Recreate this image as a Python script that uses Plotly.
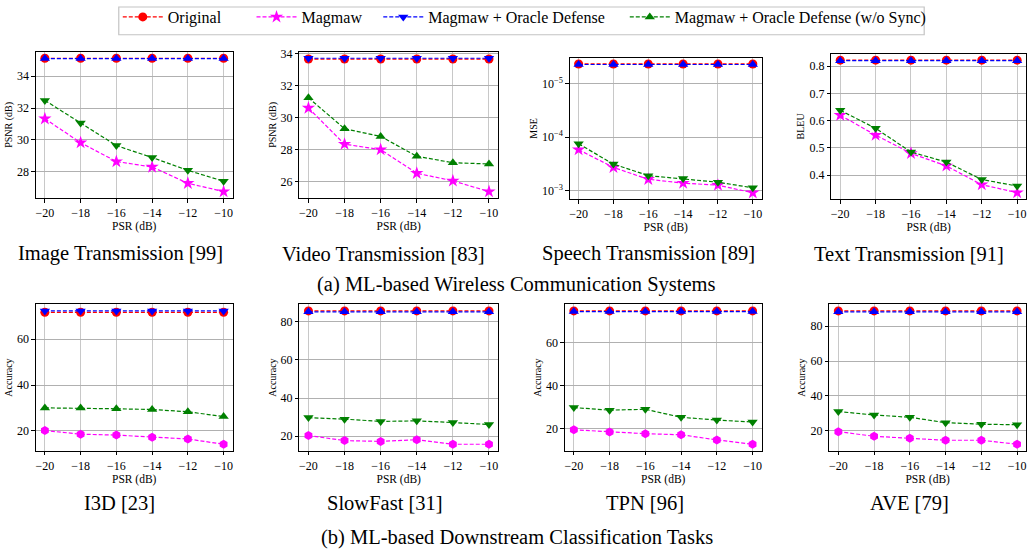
import numpy as np
import plotly.graph_objects as go

FONT = "Liberation Serif"
W, H = 1027, 550

psr = [-20, -18, -16, -14, -12, -10]
psr_ticks = [-20, -18, -16, -14, -12, -10]

series_names = ["Original", "Magmaw", "Magmaw + Oracle Defense", "Magmaw + Oracle Defense (w/o Sync)"]
series_colors = ["#ff0000", "#ff00ff", "#0000ff", "#008000"]
legend_symbols = ["circle", "star", "triangle-down", "triangle-up"]

# ---- (a) ML-based wireless communication systems ----
image_original = [35.12, 35.12, 35.12, 35.12, 35.12, 35.12]
image_magmaw = [31.33, 29.83, 28.65, 28.31, 27.29, 26.77]
image_oracle = [35.10, 35.10, 35.10, 35.10, 35.10, 35.10]
image_wosync = [32.48, 31.06, 29.65, 28.90, 28.10, 27.42]

video_original = [33.67, 33.67, 33.67, 33.67, 33.67, 33.67]
video_magmaw = [30.60, 28.33, 27.99, 26.51, 26.03, 25.36]
video_oracle = [33.72, 33.72, 33.72, 33.72, 33.72, 33.72]
video_wosync = [31.24, 29.30, 28.82, 27.57, 27.17, 27.09]

speech_original = [4.3e-6, 4.3e-6, 4.3e-6, 4.3e-6, 4.3e-6, 4.3e-6]
speech_magmaw = [1.71e-4, 3.67e-4, 6.10e-4, 7.20e-4, 7.87e-4, 1.09e-3]
speech_oracle = [4.4e-6, 4.4e-6, 4.4e-6, 4.4e-6, 4.4e-6, 4.4e-6]
speech_wosync = [1.33e-4, 3.18e-4, 5.22e-4, 5.93e-4, 6.92e-4, 8.80e-4]

text_original = [0.822, 0.822, 0.822, 0.822, 0.822, 0.822]
text_magmaw = [0.620, 0.547, 0.480, 0.434, 0.365, 0.336]
text_oracle = [0.820, 0.820, 0.820, 0.820, 0.820, 0.820]
text_wosync = [0.638, 0.572, 0.485, 0.448, 0.384, 0.360]

# ---- (b) ML-based downstream classification tasks ----
i3d_original = [71.8, 71.8, 71.8, 71.8, 71.8, 71.8]
i3d_magmaw = [20.1, 18.5, 18.1, 17.2, 16.4, 14.1]
i3d_oracle = [72.4, 72.4, 72.4, 72.4, 72.4, 72.4]
i3d_wosync = [30.0, 29.9, 29.6, 29.3, 28.3, 26.2]

slowfast_original = [85.8, 85.8, 85.8, 85.8, 85.8, 85.8]
slowfast_magmaw = [20.3, 17.6, 17.2, 18.1, 15.7, 15.7]
slowfast_oracle = [85.3, 85.3, 85.3, 85.3, 85.3, 85.3]
slowfast_wosync = [29.7, 28.9, 27.7, 28.0, 27.1, 26.1]

tpn_original = [74.6, 74.6, 74.6, 74.6, 74.6, 74.6]
tpn_magmaw = [19.5, 18.5, 17.7, 17.2, 14.8, 12.8]
tpn_oracle = [74.3, 74.3, 74.3, 74.3, 74.3, 74.3]
tpn_wosync = [29.8, 28.6, 29.0, 25.3, 24.0, 23.1]

ave_original = [88.8, 88.8, 88.8, 88.8, 88.8, 88.8]
ave_magmaw = [19.4, 16.8, 15.6, 14.5, 14.5, 12.2]
ave_oracle = [88.3, 88.3, 88.3, 88.3, 88.3, 88.3]
ave_wosync = [31.0, 29.0, 27.7, 24.6, 23.7, 23.4]

captions = ["Image Transmission [99]", "Video Transmission [83]", "Speech Transmission [89]",
            "Text Transmission [91]", "I3D [23]", "SlowFast [31]", "TPN [96]", "AVE [79]"]
group_captions = ["(a) ML-based Wireless Communication Systems",
                  "(b) ML-based Downstream Classification Tasks"]
y_titles = ["PSNR (dB)", "PSNR (dB)", "MSE", "BLEU", "Accuracy", "Accuracy", "Accuracy", "Accuracy"]
x_title = "PSR (dB)"

y_tickvals = [[28, 30, 32, 34], [26, 28, 30, 32, 34], [1e-5, 1e-4, 1e-3],
              [0.4, 0.5, 0.6, 0.7, 0.8], [20, 40, 60], [20, 40, 60, 80], [20, 40, 60], [20, 40, 60, 80]]
mse_ticktext = ["10<sup>−5</sup>", "10<sup>−4</sup>", "10<sup>−3</sup>"]

panels = [
    (image_original, image_magmaw, image_oracle, image_wosync),
    (video_original, video_magmaw, video_oracle, video_wosync),
    (speech_original, speech_magmaw, speech_oracle, speech_wosync),
    (text_original, text_magmaw, text_oracle, text_wosync),
    (i3d_original, i3d_magmaw, i3d_oracle, i3d_wosync),
    (slowfast_original, slowfast_magmaw, slowfast_oracle, slowfast_wosync),
    (tpn_original, tpn_magmaw, tpn_oracle, tpn_wosync),
    (ave_original, ave_magmaw, ave_oracle, ave_wosync),
]

# marker symbols per panel: original, magmaw, oracle, w/o sync
panel_symbols = [
    ["circle", "star", "triangle-up", "triangle-down"],
    ["circle", "star", "triangle-down", "triangle-up"],
    ["circle", "star", "triangle-up", "triangle-down"],
    ["circle", "star", "triangle-up", "triangle-down"],
    ["circle", "hexagon", "triangle-down", "triangle-up"],
    ["circle", "hexagon", "triangle-up", "triangle-down"],
    ["circle", "hexagon", "triangle-up", "triangle-down"],
    ["circle", "hexagon", "triangle-up", "triangle-down"],
]
marker_sizes = {"circle": 9, "star": 10, "hexagon": 9, "triangle-up": 9, "triangle-down": 9}

# plot boxes in pixels: (left, right, top, bottom)
boxes = [
    (35, 232, 47, 195), (299, 498, 47, 195), (570, 762, 53, 196), (832, 1027, 49, 196),
    (35, 232, 302, 450), (299, 498, 302, 450), (565, 762, 302, 450), (830, 1027, 302, 450),
]
caption_pos = [(120, 251), (383, 251), (649, 251), (910, 251),
               (119, 503), (385, 503), (645, 503), (910, 503)]
group_pos = [(517, 282), (517, 537)]
legend_x = [117, 251, 378, 625]  # left edge of each legend entry (px)

fig = go.Figure()
layout = {}

for i, (data, syms, box) in enumerate(zip(panels, panel_symbols, boxes)):
    n = i + 1
    xa = "x" if n == 1 else f"x{n}"
    ya = "y" if n == 1 else f"y{n}"
    for vals, color, sym in zip(data, series_colors, syms):
        fig.add_trace(go.Scatter(
            x=psr, y=vals, xaxis=xa, yaxis=ya, mode="lines+markers", showlegend=False,
            line=dict(color=color, width=1.2, dash="4px,2px"),
            marker=dict(symbol=sym, color=color, size=marker_sizes[sym], line=dict(width=0)),
        ))
    l, r, t, b = box
    allv = np.concatenate([np.asarray(v, dtype=float) for v in data])
    is_log = (n == 3)
    if is_log:
        lv = np.log10(allv)
        lo, hi = lv.min(), lv.max()
        pad = 0.05 * (hi - lo)
        yrange = [hi + pad, lo - pad]  # reversed
    else:
        lo, hi = allv.min(), allv.max()
        pad = 0.05 * (hi - lo)
        yrange = [lo - pad, hi + pad]
    axis_common = dict(
        showline=True, linecolor="black", linewidth=1, mirror=True,
        ticks="outside", ticklen=3.5, tickwidth=1, tickcolor="black",
        tickfont=dict(family=FONT, size=12, color="black"),
        zeroline=False,
    )
    layout["xaxis" if n == 1 else f"xaxis{n}"] = dict(
        axis_common, domain=[l / W, r / W], anchor=ya, range=[-20.5, -9.5],
        tickmode="array", tickvals=psr_ticks,
        showgrid=True, gridcolor="#c8c8c8", gridwidth=1.3,
        title=dict(text=x_title, font=dict(family=FONT, size=11.5, color="black"), standoff=1),
    )
    ydict = dict(
        axis_common, domain=[1 - b / H, 1 - t / H], anchor=xa, range=yrange,
        tickmode="array", tickvals=y_tickvals[i],
        showgrid=True, gridcolor="#b0b0b0", gridwidth=1,
        title=dict(text=y_titles[i], font=dict(family=FONT, size=10, color="black"), standoff=2),
    )
    if is_log:
        ydict.update(type="log", ticktext=mse_ticktext)
    layout["yaxis" if n == 1 else f"yaxis{n}"] = ydict

# legend entries (one legend per entry so that spacing follows the reference)
for k, (name, color, sym) in enumerate(zip(series_names, series_colors, legend_symbols)):
    lg = "legend" if k == 0 else f"legend{k + 1}"
    fig.add_trace(go.Scatter(
        x=[None], y=[None], mode="lines+markers", name=name, legend=lg,
        line=dict(color=color, width=1.2, dash="4px,2px"),
        marker=dict(symbol=sym, color=color, size=marker_sizes[sym]),
    ))
    layout[lg] = dict(
        orientation="h", x=legend_x[k] / W, xanchor="left", y=1 - 12 / H, yanchor="middle",
        font=dict(family=FONT, size=16, color="black"), itemwidth=40,
        borderwidth=0, bgcolor="rgba(0,0,0,0)",
    )

annotations = []
for txt, (cx, cy) in zip(captions, caption_pos):
    annotations.append(dict(text=txt, x=cx / W, y=1 - cy / H, xref="paper", yref="paper",
                            xanchor="center", yanchor="middle", showarrow=False,
                            font=dict(family=FONT, size=20.5, color="black")))
for txt, (cx, cy) in zip(group_captions, group_pos):
    annotations.append(dict(text=txt, x=cx / W, y=1 - cy / H, xref="paper", yref="paper",
                            xanchor="center", yanchor="middle", showarrow=False,
                            font=dict(family=FONT, size=20.5, color="black")))

shapes = [dict(type="rect", xref="paper", yref="paper",
               x0=118 / W, x1=925 / W, y0=1 - 30 / H, y1=1 - 2 / H,
               line=dict(color="#c4c4c4", width=1.2), fillcolor="rgba(0,0,0,0)", layer="above")]

fig.update_layout(
    width=W, height=H, margin=dict(l=0, r=0, t=0, b=0),
    paper_bgcolor="white", plot_bgcolor="white",
    font=dict(family=FONT, color="black"),
    showlegend=True,
    annotations=annotations,
    shapes=shapes,
    **layout,
)

fig.write_html("out.html", config={"displayModeBar": False},
               post_script="document.body.style.margin='0px';")
